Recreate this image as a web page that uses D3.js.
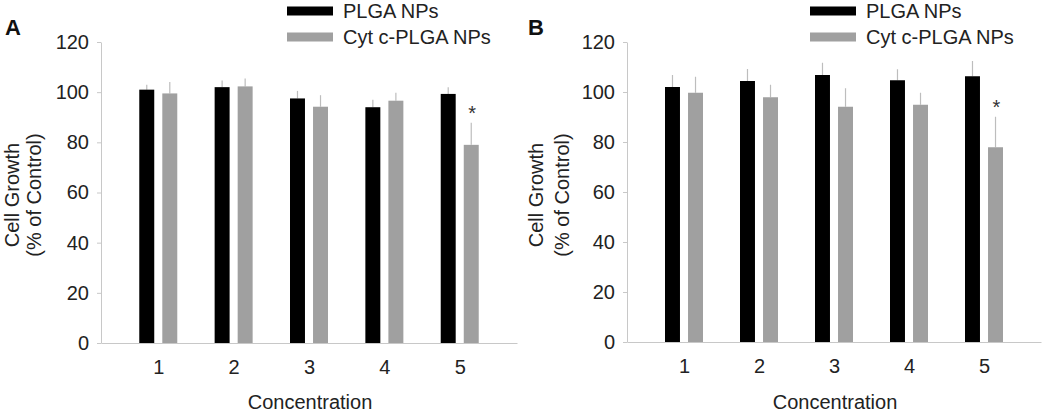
<!DOCTYPE html>
<html>
<head>
<meta charset="utf-8">
<script src="https://cdn.jsdelivr.net/npm/d3@7"></script>
<style>
  body { margin: 0; background: #fff; }
  svg { display: block; font-family: "Liberation Sans", Arial, sans-serif; }
</style>
</head>
<body>
<div id="chart"></div>
<script>
// values
var concentrations = ["1", "2", "3", "4", "5"];
var yTicks = [0, 20, 40, 60, 80, 100, 120];
var seriesNames = ["PLGA NPs", "Cyt c-PLGA NPs"];
var seriesColors = ["#000000", "#a0a0a0"];

var plgaA = [101, 102, 97.5, 94, 99.3];
var plgaErrA = [2, 2.7, 3, 3, 2.7];
var cytA = [99.5, 102.3, 94.2, 96.6, 79];
var cytErrA = [4.6, 3.1, 4.6, 3.2, 8.8];

var plgaB = [102, 104.4, 106.8, 104.7, 106.3];
var plgaErrB = [4.8, 4.8, 4.9, 4.4, 6.1];
var cytB = [99.7, 97.9, 94.1, 94.9, 77.9];
var cytErrB = [6.4, 5, 7.4, 4.8, 12.2];

// asterisk over the Cyt c bar at concentration 5
var starA = [false, false, false, false, true];
var starB = [false, false, false, false, true];

var svg = d3.select("#chart").append("svg")
  .attr("width", 1050)
  .attr("height", 412);

function drawPanel(p) {
  var g = svg.append("g");

  var x = d3.scalePoint()
    .domain(concentrations)
    .range([p.left, p.right])
    .padding(0.76);

  var xSub = d3.scaleBand()
    .domain([0, 1])
    .range([-19, 19])
    .paddingInner(0.35);

  var y = d3.scaleLinear()
    .domain([0, 120])
    .range([p.bottom, p.top]);

  var yAxis = g.append("g")
    .attr("transform", `translate(${p.left},0)`)
    .call(d3.axisLeft(y).tickValues(yTicks).tickSize(4).tickSizeOuter(0).tickPadding(8));
  yAxis.selectAll("path, line").attr("stroke", "#c8c8c8");
  yAxis.selectAll("text").attr("font-size", 20).attr("fill", "#222");

  var xAxis = g.append("g")
    .attr("transform", `translate(0,${p.bottom})`)
    .call(d3.axisBottom(x).tickSize(0).tickPadding(17));
  xAxis.select("path").attr("stroke", "#c8c8c8");
  xAxis.selectAll("text").attr("font-size", 20).attr("fill", "#222");

  var rows = concentrations.map(function(c, i) {
    return [
      { c: c, s: 0, v: p.plga[i], e: p.plgaErr[i], star: false },
      { c: c, s: 1, v: p.cyt[i], e: p.cytErr[i], star: p.star[i] }
    ];
  }).flat();

  // error bars (upper half only)
  g.selectAll(".err").data(rows).enter().append("line")
    .attr("x1", d => x(d.c) + xSub(d.s) + xSub.bandwidth() / 2)
    .attr("x2", d => x(d.c) + xSub(d.s) + xSub.bandwidth() / 2)
    .attr("y1", d => y(d.v))
    .attr("y2", d => y(d.v + d.e))
    .attr("stroke", "#bdbdbd")
    .attr("stroke-width", 1.2);

  g.selectAll(".bar").data(rows).enter().append("rect")
    .attr("x", d => x(d.c) + xSub(d.s))
    .attr("width", xSub.bandwidth())
    .attr("y", d => y(d.v))
    .attr("height", d => y(0) - y(d.v))
    .attr("fill", d => seriesColors[d.s]);

  g.selectAll(".star").data(rows.filter(d => d.star)).enter().append("text")
    .attr("x", d => x(d.c) + xSub(d.s) + xSub.bandwidth() / 2 + 1)
    .attr("y", d => y(d.v + d.e + 6))
    .attr("dy", "0.6em")
    .attr("text-anchor", "middle")
    .attr("font-size", 20)
    .attr("fill", "#333")
    .text("*");

  // panel letter
  g.append("text")
    .attr("x", p.letterX)
    .attr("y", 35)
    .attr("font-size", 22)
    .attr("font-weight", "bold")
    .attr("fill", "#111")
    .text(p.letter);

  // y title, two lines
  [["Cell Growth", p.titleX1], ["(% of Control)", p.titleX2]].forEach(function(t) {
    g.append("text")
      .attr("transform", `translate(${t[1]},195) rotate(-90)`)
      .attr("text-anchor", "middle")
      .attr("dominant-baseline", "central")
      .attr("font-size", 20)
      .attr("fill", "#222")
      .text(t[0]);
  });

  g.append("text")
    .attr("x", (p.left + p.right) / 2 + 1)
    .attr("y", 409)
    .attr("text-anchor", "middle")
    .attr("font-size", 20)
    .attr("fill", "#222")
    .text("Concentration");

  // legend
  var leg = g.selectAll(".leg").data(seriesNames).enter().append("g")
    .attr("transform", (d, i) => `translate(${p.legendX},${11 + i * 26})`);
  leg.append("rect")
    .attr("x", 0)
    .attr("y", -4.5)
    .attr("width", 46)
    .attr("height", 9)
    .attr("fill", (d, i) => seriesColors[i]);
  leg.append("text")
    .attr("x", 56)
    .attr("y", 0)
    .attr("dominant-baseline", "central")
    .attr("font-size", 20)
    .attr("fill", "#222")
    .text(d => d);
}

drawPanel({
  left: 101, right: 517, top: 42, bottom: 343,
  plga: plgaA, plgaErr: plgaErrA, cyt: cytA, cytErr: cytErrA, star: starA,
  letter: "A", letterX: 5, titleX1: 12, titleX2: 34, legendX: 287
});

drawPanel({
  left: 627, right: 1041, top: 42, bottom: 342,
  plga: plgaB, plgaErr: plgaErrB, cyt: cytB, cytErr: cytErrB, star: starB,
  letter: "B", letterX: 528, titleX1: 536, titleX2: 562, legendX: 810
});
</script>
</body>
</html>
